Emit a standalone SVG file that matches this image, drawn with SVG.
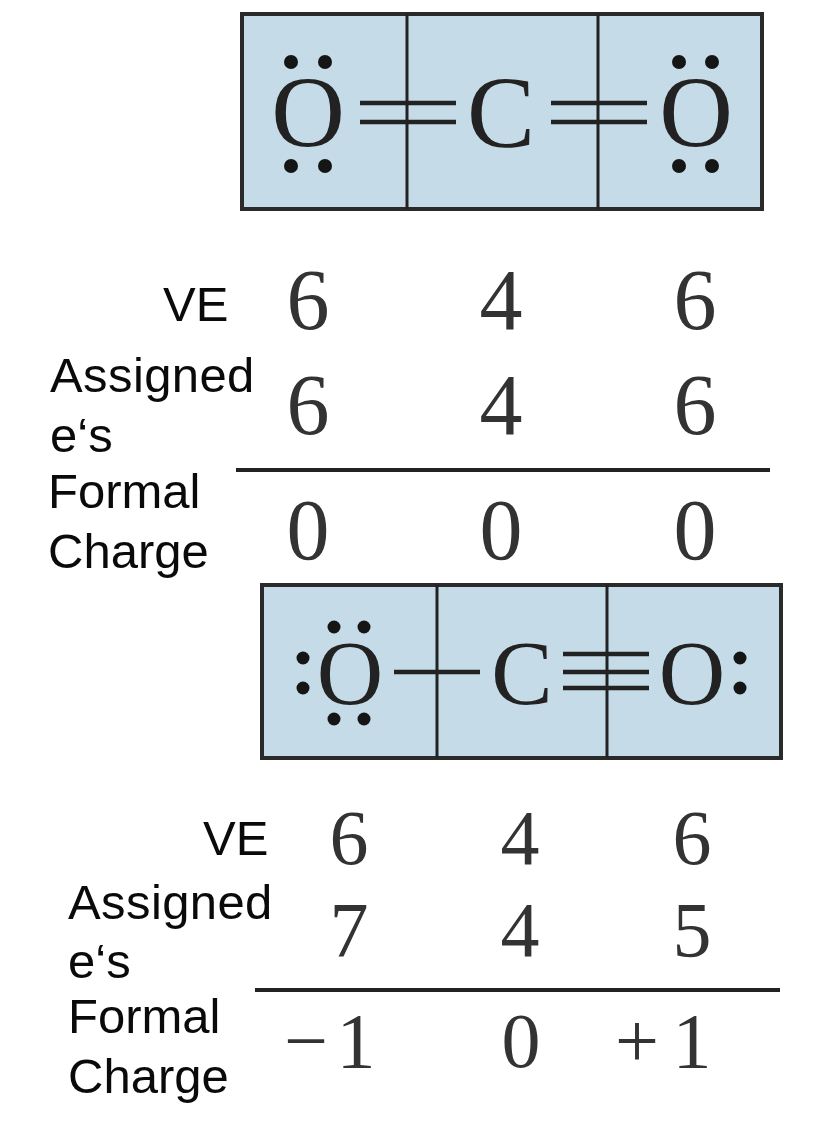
<svg xmlns="http://www.w3.org/2000/svg" width="821" height="1146" viewBox="0 0 821 1146">
<style>
.box{fill:#c5dbe8;stroke:#2a2a2a;stroke-width:4}
.l{stroke:#222;stroke-width:3;fill:none}
.b{stroke:#222;stroke-width:4.500;fill:none}
.s{font-family:"Liberation Serif",serif;fill:#333}
.n{font-size:86px;text-anchor:middle}
.m{font-size:78px;text-anchor:middle}
.a{font-size:102px;text-anchor:middle;fill:#222}
.a2{font-size:92px;text-anchor:middle;fill:#222}
.h{font-family:"Liberation Sans",sans-serif;font-size:49px;fill:#0a0a0a}
.w{letter-spacing:.4px}
.d{fill:#151515}
</style>
<rect width="821" height="1146" fill="#fff"/>
<g id="structure-1">
<rect class="box" x="242" y="14" width="520" height="195"/>
<path class="l" d="M407 14V209M598 14V209"/>
<text class="s a" x="308" y="147">O</text><text class="s a" x="501" y="147">C</text><text class="s a" x="696" y="147">O</text>
<g class="d"><circle cx="291" cy="62" r="7"/><circle cx="325" cy="62" r="7"/><circle cx="291" cy="166" r="7"/><circle cx="325" cy="166" r="7"/><circle cx="679" cy="62" r="7"/><circle cx="712" cy="62" r="7"/><circle cx="679" cy="166" r="7"/><circle cx="712" cy="166" r="7"/></g>
</g>
<g id="structure-2">
<rect class="box" x="262" y="585" width="519" height="173"/>
<path class="l" d="M437 585V758M607 585V758"/>
<text class="s a2" x="350" y="704">O</text><text class="s a2" x="522" y="704">C</text><text class="s a2" x="692" y="704">O</text>
<g class="d"><circle cx="334" cy="627" r="6.500"/><circle cx="364" cy="627" r="6.500"/><circle cx="334" cy="719" r="6.500"/><circle cx="364" cy="719" r="6.500"/><circle cx="303" cy="658" r="6.500"/><circle cx="303" cy="688" r="6.500"/><circle cx="740" cy="658" r="6.500"/><circle cx="740" cy="688" r="6.500"/></g>
</g>
<g id="connectors">
<path class="b" d="M360 103H456M360 122H456M551 103H647M551 122H647"/>
<path class="b" d="M394 672H480M563 654H649M563 672H649M563 688H649"/>
<path class="b" d="M236 470H770M255 990H780" style="stroke-width:4"/>
</g>
<g id="table-1">
<text class="s n" x="308" y="329">6</text><text class="s n" x="501" y="329">4</text><text class="s n" x="695" y="329">6</text>
<text class="s n" x="308" y="434">6</text><text class="s n" x="501" y="434">4</text><text class="s n" x="695" y="434">6</text>
<text class="s n" x="308" y="559">0</text><text class="s n" x="501" y="559">0</text><text class="s n" x="695" y="559">0</text>
<text class="h" x="163" y="321">VE</text><text class="h w" x="50" y="392">Assigned</text><text class="h" x="50" y="452">e‘s</text><text class="h" x="48" y="508">Formal</text><text class="h" x="48" y="568">Charge</text>
</g>
<g id="table-2">
<text class="s m" x="349" y="864">6</text><text class="s m" x="520" y="864">4</text><text class="s m" x="692" y="864">6</text>
<text class="s m" x="349" y="956">7</text><text class="s m" x="520" y="956">4</text><text class="s m" x="692" y="956">5</text>
<text class="s m" y="1067"><tspan x="306">−</tspan><tspan x="356">1</tspan></text><text class="s m" x="521" y="1067">0</text><text class="s m" y="1067"><tspan x="637">+</tspan><tspan x="692">1</tspan></text>
<text class="h" x="203" y="855">VE</text><text class="h w" x="68" y="919">Assigned</text><text class="h" x="68" y="978">e‘s</text><text class="h" x="68" y="1033">Formal</text><text class="h" x="68" y="1093">Charge</text>
</g>
</svg>
